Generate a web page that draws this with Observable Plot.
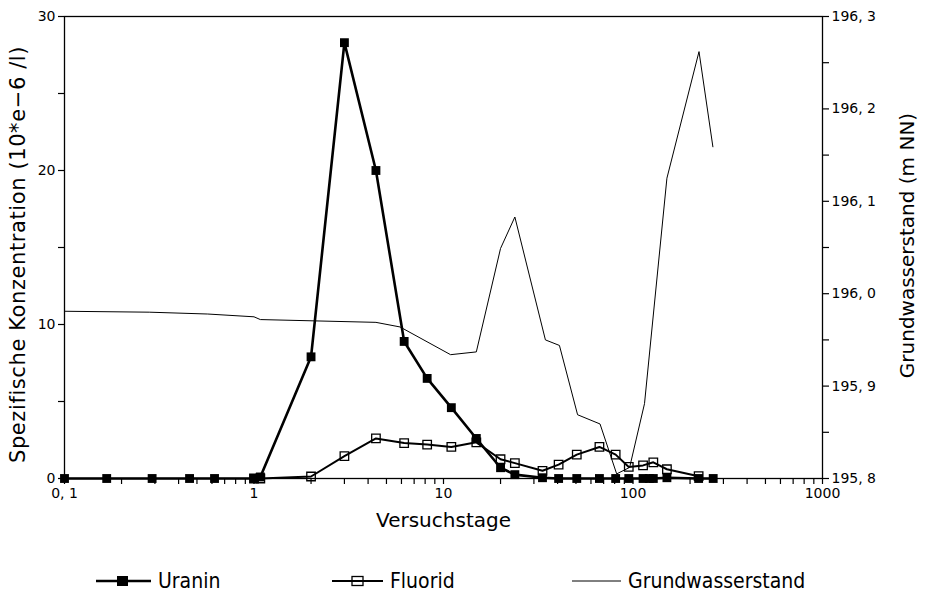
<!DOCTYPE html>
<html>
<head>
<meta charset="utf-8">
<script src="https://cdn.jsdelivr.net/npm/d3@7"></script>
<script src="https://cdn.jsdelivr.net/npm/@observablehq/plot@0.6"></script>
<style>
  body { margin: 0; background: #fff; font-family: "DejaVu Sans", sans-serif; }
  #wrap { position: relative; width: 929px; height: 597px; }
  #legend { position: absolute; left: 0; top: 545px; width: 929px; height: 52px; }
  .item { position: absolute; top: 24px; display: flex; align-items: center; font-size: 21px; color: #000; font-family: "DejaVu Sans Condensed", "DejaVu Sans", sans-serif; }
  .item svg { margin-right: 7px; }
</style>
</head>
<body>
<div id="wrap">
  <div id="chart"></div>
  <div id="legend"></div>
</div>
<script>
// ---- data ----
const uraninDays = [0.1, 0.167, 0.29, 0.457, 0.619, 1.0, 1.08, 2.0, 3.0, 4.4, 6.2, 8.2, 11.0, 14.9, 20, 23.8, 33.3, 40.5, 50.5, 66.5, 81, 95, 113, 122, 128, 151, 222, 265];
const uraninValues = [0, 0, 0, 0, 0, 0, 0.1, 7.9, 28.3, 20.0, 8.9, 6.5, 4.6, 2.6, 0.7, 0.25, 0.05, 0, 0, 0, 0, 0, 0, 0, 0, 0.05, 0, 0];

const fluoridDays = [1.0, 1.08, 2.0, 3.0, 4.4, 6.2, 8.2, 11.0, 14.9, 20, 23.8, 33.3, 40.5, 50.5, 66.5, 81, 95, 113, 128, 151, 222];
const fluoridValues = [0, 0, 0.13, 1.45, 2.6, 2.3, 2.2, 2.05, 2.35, 1.25, 1.0, 0.5, 0.9, 1.55, 2.05, 1.55, 0.75, 0.85, 1.05, 0.6, 0.15];

const gwDays = [0.1, 0.28, 0.57, 1.0, 1.08, 4.4, 5.9, 10.9, 14.9, 20, 23.8, 34.5, 40.9, 51, 67, 82, 96, 115, 151, 223, 264];
const gwLevels = [195.981, 195.980, 195.978, 195.975, 195.972, 195.969, 195.964, 195.934, 195.937, 196.049, 196.083, 195.950, 195.944, 195.869, 195.859, 195.805, 195.812, 195.881, 196.125, 196.262, 196.159];

const xMajor = [0.1, 1, 10, 100, 1000];
const xMajorLabels = ["0, 1", "1", "10", "100", "1000"];
const leftTicks = [0, 5, 10, 15, 20, 25, 30];
const leftLabels = [0, 10, 20, 30];
const gwMin = 195.8, gwMax = 196.3;
const rightTicks = [195.8, 195.85, 195.9, 195.95, 196.0, 196.05, 196.1, 196.15, 196.2, 196.25, 196.3];
const rightLabels = [195.8, 195.9, 196.0, 196.1, 196.2, 196.3];

const xTitle = "Versuchstage";
const yTitle = "Spezifische Konzentration (10*e−6 /l)";
const y2Title = "Grundwasserstand (m NN)";

// ---- derived ----
const yMax = 30;
const toLeft = v => (v - gwMin) / (gwMax - gwMin) * yMax;
const fromLeft = d => gwMin + d / yMax * (gwMax - gwMin);

const uranin = uraninDays.map((d, i) => ({day: d, value: uraninValues[i]}));
const fluorid = fluoridDays.map((d, i) => ({day: d, value: fluoridValues[i]}));
const gw = gwDays.map((d, i) => ({day: d, value: toLeft(gwLevels[i])}));

const xTicks = [];
for (let e = -1; e < 3; e++) for (let m = 1; m < 10; m++) xTicks.push(+(m * Math.pow(10, e)).toPrecision(3));
xTicks.push(1000);

const font = '"DejaVu Sans", sans-serif';

const chart = Plot.plot({
  width: 929,
  height: 545,
  marginLeft: 64,
  marginRight: 107,
  marginTop: 16,
  marginBottom: 67,
  style: {fontFamily: font, color: "#000", background: "#fff"},
  x: {type: "log", domain: [0.1, 1000]},
  y: {domain: [0, yMax]},
  marks: [
    Plot.frame({stroke: "#000", strokeWidth: 1.3}),
    Plot.axisX({ticks: xTicks, tickSize: 6, tickPadding: 4, fontSize: 14,
      tickFormat: d => { const i = xMajor.findIndex(m => Math.abs(m - d) < 1e-9); return i >= 0 ? xMajorLabels[i] : ""; },
      label: null, strokeWidth: 1.2}),
    Plot.axisY({ticks: leftTicks, tickSize: 6, tickPadding: 3, fontSize: 14,
      tickFormat: d => leftLabels.includes(d) ? String(d) : "", label: null, strokeWidth: 1.2}),
    Plot.axisY({anchor: "right", ticks: rightTicks.map(toLeft), tickSize: 6, tickPadding: 3, fontSize: 14,
      tickFormat: d => { const v = fromLeft(d); return rightLabels.some(r => Math.abs(r - v) < 1e-6) ? v.toFixed(1).replace(".", ", ") : ""; },
      label: null, strokeWidth: 1.2}),
    Plot.text([xTitle], {text: d => d, frameAnchor: "bottom", dy: 42, lineAnchor: "middle", textAnchor: "middle", fontSize: 20, fill: "#000"}),
    Plot.text([yTitle], {text: d => d, frameAnchor: "left", dx: -46, dy: 7, rotate: -90, lineAnchor: "middle", textAnchor: "middle", fontSize: 21, fill: "#000"}),
    Plot.text([y2Title], {text: d => d, frameAnchor: "right", dx: 85, dy: -2, rotate: -90, lineAnchor: "middle", textAnchor: "middle", fontSize: 20, fill: "#000"}),
    Plot.line(gw, {x: "day", y: "value", stroke: "#000", strokeWidth: 1}),
    Plot.line(fluorid, {x: "day", y: "value", stroke: "#000", strokeWidth: 2}),
    Plot.dot(fluorid, {x: "day", y: "value", symbol: "square", r: 4.8, stroke: "#000", strokeWidth: 1.3, fill: "none"}),
    Plot.line(uranin, {x: "day", y: "value", stroke: "#000", strokeWidth: 2.6}),
    Plot.dot(uranin, {x: "day", y: "value", symbol: "square", r: 5, fill: "#000", stroke: "none"})
  ]
});
d3.select(chart).selectAll("text").filter(function() { return this.textContent === yTitle; }).style("letter-spacing", "0.6px");
document.getElementById("chart").appendChild(chart);

// ---- legend ----
const legendItems = [
  {name: "Uranin", left: 96, kind: "filled"},
  {name: "Fluorid", left: 332, kind: "open"},
  {name: "Grundwasserstand", left: 572, kind: "thin"}
];
const legend = document.getElementById("legend");
for (const it of legendItems) {
  const div = document.createElement("div");
  div.className = "item";
  div.style.left = it.left + "px";
  let sw;
  if (it.kind === "filled") {
    sw = `<svg width="55" height="14"><line x1="0" y1="7" x2="55" y2="7" stroke="#000" stroke-width="2.5"/><rect x="21" y="2" width="11" height="10" fill="#000"/></svg>`;
  } else if (it.kind === "open") {
    sw = `<svg width="51" height="14"><line x1="0" y1="7" x2="51" y2="7" stroke="#000" stroke-width="2"/><rect x="20" y="2.5" width="11" height="9" fill="none" stroke="#000" stroke-width="1.3"/></svg>`;
  } else {
    sw = `<svg width="49" height="14"><line x1="0" y1="7" x2="49" y2="7" stroke="#000" stroke-width="1"/></svg>`;
  }
  div.innerHTML = sw + `<span>${it.name}</span>`;
  legend.appendChild(div);
}
</script>
</body>
</html>
